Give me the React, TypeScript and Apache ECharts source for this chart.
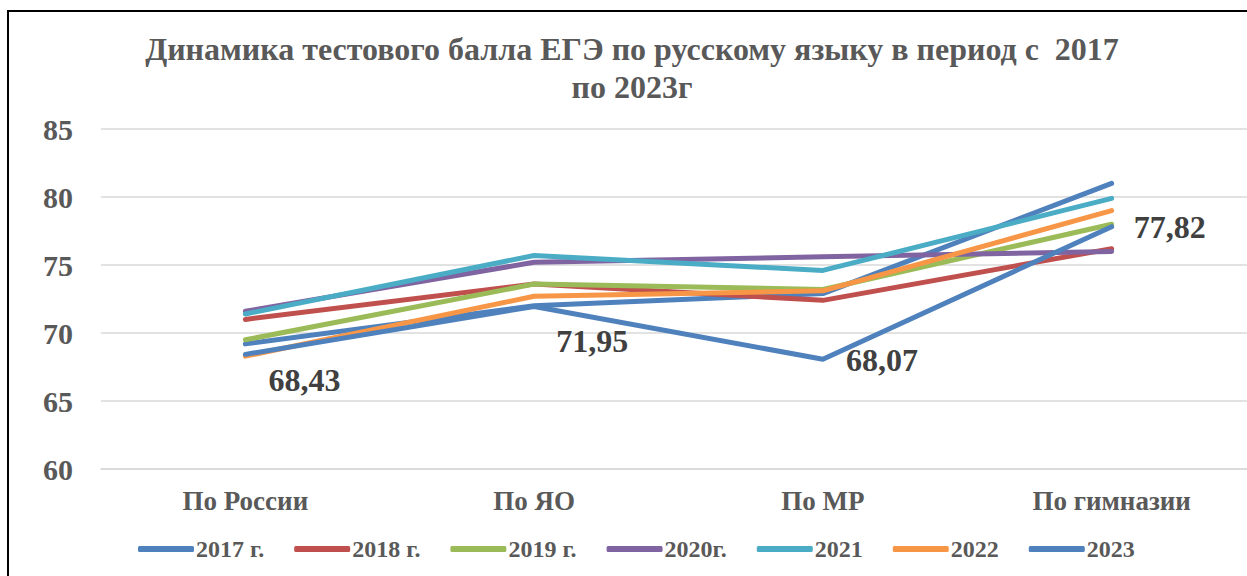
import React, { useEffect, useRef } from "react";
import * as echarts from "echarts";

const categories = ["По России", "По ЯО", "По МР", "По гимназии"];
const seriesNames = ["2017 г.", "2018 г.", "2019 г.", "2020г.", "2021", "2022", "2023"];
const values2017 = [69.2, 72.0, 72.9, 81.0];
const values2018 = [71.0, 73.6, 72.4, 76.2];
const values2019 = [69.5, 73.6, 73.2, 78.0];
const values2020 = [71.6, 75.2, 75.6, 76.0];
const values2021 = [71.4, 75.7, 74.6, 79.9];
const values2022 = [68.3, 72.7, 73.1, 79.0];
const values2023 = [68.43, 71.95, 68.07, 77.82];
const yTicks = { min: 60, max: 85, interval: 5 };
const titleText = "Динамика тестового балла ЕГЭ по русскому языку в период с  2017\nпо 2023г";

const colors = ["#4F81BD", "#C0504D", "#9BBB59", "#8064A2", "#4BACC6", "#F79646", "#4F81BD"];
const labelOffsets = [
  [59, 26],
  [58, 35],
  [59, 1],
  [58, 0],
];

const FONT = "'Liberation Serif', 'Times New Roman', serif";

export default function App() {
  const ref = useRef<HTMLDivElement>(null);
  useEffect(() => {
    if (!ref.current) return;
    const chart = echarts.init(ref.current, undefined, { renderer: "svg" });
    const allValues = [values2017, values2018, values2019, values2020, values2021, values2022, values2023];
    const series = allValues.map((vals, i) => {
      const isLast = i === allValues.length - 1;
      return {
        name: seriesNames[i],
        type: "line",
        data: isLast
          ? vals.map((v, j) => ({
              value: v,
              label: { offset: labelOffsets[j] },
            }))
          : vals,
        symbol: "circle",
        symbolSize: 0.1,
        showSymbol: true,
        itemStyle: { color: colors[i] },
        lineStyle: { color: colors[i], width: 5, cap: "round", join: "round" },
        label: isLast
          ? {
              show: true,
              position: "inside",
              formatter: (p: any) => Number(p.value).toFixed(2).replace(".", ","),
              fontFamily: FONT,
              fontWeight: "bold",
              fontSize: 32,
              color: "#404040",
            }
          : { show: false },
        emphasis: { disabled: true },
        z: 2 + i,
      };
    });
    chart.setOption({
      animation: false,
      color: colors,
      title: {
        text: titleText,
        left: "center",
        top: 14,
        textStyle: {
          fontFamily: FONT,
          fontWeight: "bold",
          fontSize: 32,
          color: "#595959",
          lineHeight: 38,
        },
      },
      legend: {
        data: seriesNames.map((n, i) => ({
          name: n,
          icon: "roundRect",
          itemStyle: { color: colors[i], opacity: 1 },
        })),
        left: 125,
        top: 521,
        itemWidth: 56,
        itemHeight: 6,
        itemGap: 30,
        textStyle: {
          fontFamily: FONT,
          fontWeight: "bold",
          fontSize: 24,
          color: "#595959",
          padding: [0, 0, 0, -3],
        },
      },
      grid: { left: 93, top: 118, width: 1156, height: 340, containLabel: false },
      xAxis: {
        type: "category",
        data: categories,
        boundaryGap: true,
        axisLine: { show: true, lineStyle: { color: "#d9d9d9", width: 1.5 } },
        axisTick: { show: false },
        axisLabel: {
          fontFamily: FONT,
          fontWeight: "bold",
          fontSize: 27,
          color: "#595959",
          margin: 18,
        },
      },
      yAxis: {
        type: "value",
        min: yTicks.min,
        max: yTicks.max,
        interval: yTicks.interval,
        axisLine: { show: false },
        axisTick: { show: false },
        splitLine: { lineStyle: { color: "#d9d9d9", width: 1.5 } },
        axisLabel: {
          fontFamily: FONT,
          fontWeight: "bold",
          fontSize: 30,
          color: "#595959",
          margin: 28,
        },
      },
      tooltip: { show: false },
      series,
    });
    return () => chart.dispose();
  }, []);
  return (
    <div
      style={{
        position: "fixed",
        left: 0,
        top: 0,
        width: 1247,
        height: 576,
        overflow: "hidden",
        background: "#fff",
      }}
    >
      <div
        style={{
          position: "absolute",
          left: 7,
          top: 10,
          width: 1400,
          height: 700,
          borderLeft: "2px solid #000",
          borderTop: "2px solid #000",
        }}
      />
      <div
        ref={ref}
        style={{ position: "absolute", left: 8, top: 11, width: 1248, height: 565 }}
      />
    </div>
  );
}
